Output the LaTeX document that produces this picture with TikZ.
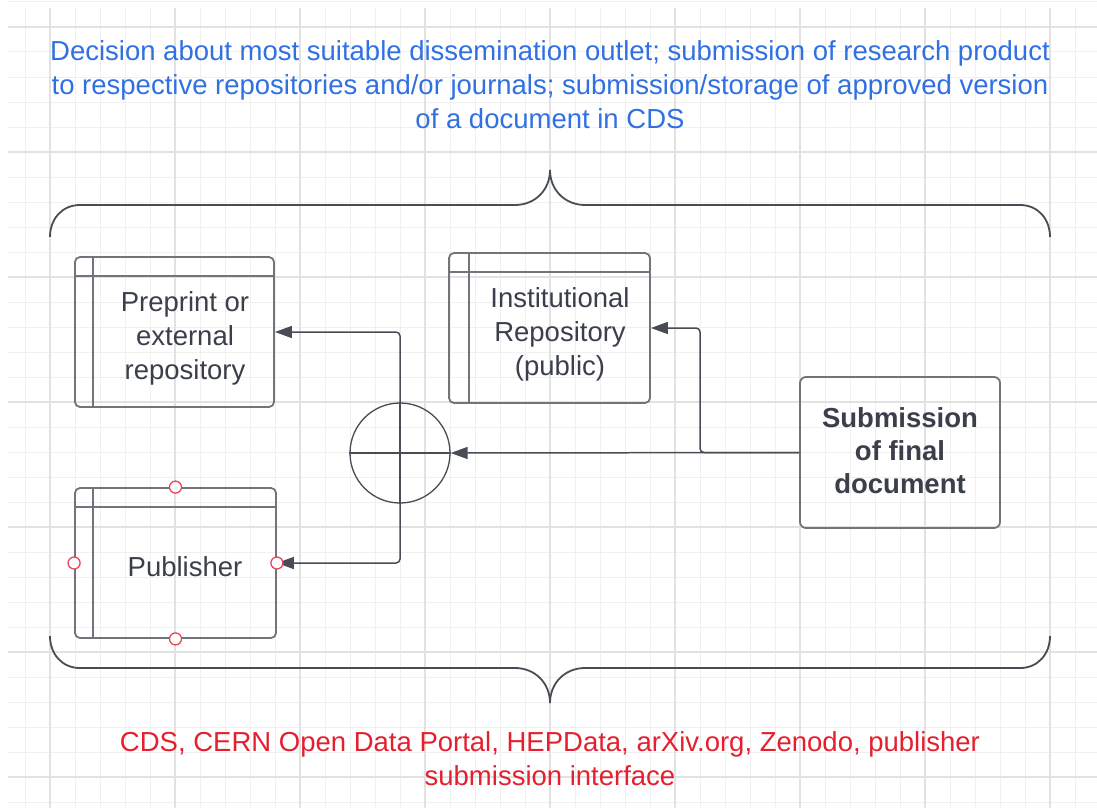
\documentclass[tikz,border=0pt]{standalone}
\usepackage{fontspec}
\setmainfont{Liberation Sans}
\usetikzlibrary{arrows.meta,shapes.geometric}
\definecolor{gridminor}{HTML}{F0F0F0}
\definecolor{gridmajor}{HTML}{E2E2E2}
\definecolor{boxline}{HTML}{70747B}
\definecolor{conline}{HTML}{484D55}
\definecolor{txtgray}{HTML}{3A3F4A}
\definecolor{titleblue}{HTML}{3070E2}
\definecolor{titlered}{HTML}{E42030}
\definecolor{handred}{HTML}{E8485A}
\tikzset{
  every node/.style={font=\fontsize{27.5}{34}\selectfont},
  boxshape/.style={draw=boxline, line width=1.8pt, rounded corners=5pt, minimum width=#1, minimum height=150pt, inner sep=0pt},
  boxtext/.style={text=txtgray, align=center, inner sep=0pt},
  connector/.style={draw=conline, line width=1.5pt, rounded corners=4pt, -{Triangle[length=17pt,width=12pt]}},
  braceline/.style={draw=conline, line width=1.8pt},
  handle/.style={circle, draw=handred, fill=white, line width=1.3pt, minimum size=12pt, inner sep=0pt},
  gridminorline/.style={draw=gridminor, line width=1pt},
  gridmajorline/.style={draw=gridmajor, line width=1.3pt}
}
\begin{document}
\begin{tikzpicture}[x=1pt,y=-1pt]
\useasboundingbox (0,0) rectangle (1097,808);
% grid
\foreach \k in {1,...,43} {
  \draw[gridminorline] (25*\k,8) -- (25*\k,808);
}
\foreach \k in {0,...,32} {
  \draw[gridminorline] (8,2+25*\k) -- (1097,2+25*\k);
}
\foreach \k in {0,...,8} {
  \draw[gridmajorline] (50+125*\k,8) -- (50+125*\k,808);
}
\foreach \k in {0,...,6} {
  \draw[gridmajorline] (8,27+125*\k) -- (1097,27+125*\k);
}
% title
\node[text=titleblue, align=center, inner sep=0pt] (title) at (550,85)
  {Decision about most suitable dissemination outlet; submission of research product\\
   to respective repositories and/or journals; submission/storage of approved version\\
   of a document in CDS};
% braces
\draw[braceline] (50,237) .. controls (50,219) and (62,205) .. (80,205) -- (515,205)
  .. controls (535,205) and (550,190) .. (550,170)
  .. controls (550,190) and (565,205) .. (585,205) -- (1020,205)
  .. controls (1038,205) and (1050,219) .. (1050,237);
\draw[braceline] (50,636) .. controls (50,654) and (62,668) .. (80,668) -- (515,668)
  .. controls (535,668) and (550,683) .. (550,703)
  .. controls (550,683) and (565,668) .. (585,668) -- (1020,668)
  .. controls (1038,668) and (1050,654) .. (1050,636);
% boxes
\node[boxshape=199pt] (pre) at (174.5,332) {};
\draw[draw=boxline, line width=1.8pt] ([yshift=-20pt]pre.north west) -- ([yshift=-20pt]pre.north east);
\draw[draw=boxline, line width=1.8pt] ([xshift=19pt]pre.north west) -- ([xshift=19pt]pre.south west);
\node[boxtext] (pretext) at (185,338) {Preprint or\\external\\repository};

\node[boxshape=201pt] (inst) at (549.5,328) {};
\draw[draw=boxline, line width=1.8pt] ([yshift=-20pt]inst.north west) -- ([yshift=-20pt]inst.north east);
\draw[draw=boxline, line width=1.8pt] ([xshift=21pt]inst.north west) -- ([xshift=21pt]inst.south west);
\node[boxtext] (insttext) at (560,334) {Institutional\\Repository\\(public)};

\node[boxshape=201pt] (pub) at (175.5,563) {};
\draw[draw=boxline, line width=1.8pt] ([yshift=-20pt]pub.north west) -- ([yshift=-20pt]pub.north east);
\draw[draw=boxline, line width=1.8pt] ([xshift=19pt]pub.north west) -- ([xshift=19pt]pub.south west);
\node[boxtext] (pubtext) at (185,567) {Publisher};

\node[draw=boxline, line width=1.8pt, rounded corners=6pt, minimum width=200pt, minimum height=151pt, inner sep=0pt] (sub) at (900,452.5) {};
\node[boxtext, font=\fontsize{27.5}{33}\selectfont\bfseries] (subtext) at (900,451) {Submission\\of final\\document};

% circle gateway
\node[circle, draw=conline, line width=1.3pt, minimum size=100pt, inner sep=0pt] (gw) at (400,453) {};
\draw[draw=conline, line width=1.3pt] (gw.north) -- (gw.south);
\draw[draw=conline, line width=1.3pt] (gw.west) -- (gw.east);

% connectors
\coordinate (bend) at (700,452.5);
\draw[connector] (sub.west) -- (gw.east);
\draw[connector] (sub.west) -- (bend) |- (inst.east);
\draw[connector] (gw.north) |- (pre.east);
\draw[connector] (gw.south) |- (pub.east);

% selection handles
\node[handle] (h1) at (pub.north) {};
\node[handle] (h2) at (pub.south) {};
\node[handle] (h3) at (pub.west) {};
\node[handle] (h4) at (pub.east) {};

% bottom text
\node[text=titlered, align=center, inner sep=0pt] (tools) at (550,759)
  {CDS, CERN Open Data Portal, HEPData, arXiv.org, Zenodo, publisher\\submission interface};
\end{tikzpicture}
\end{document}
